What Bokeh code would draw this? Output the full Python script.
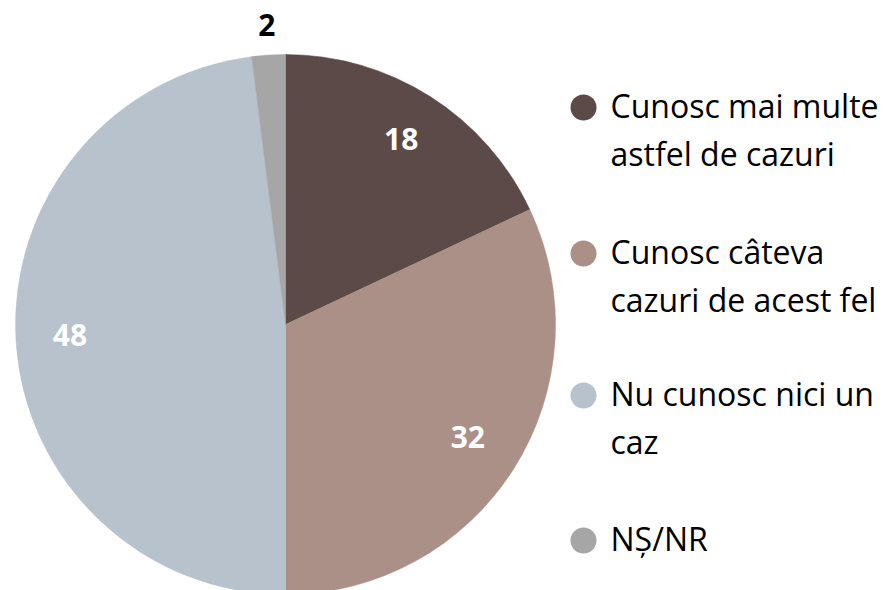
import math
from bokeh.plotting import figure
from bokeh.models import Range1d, ColumnDataSource
from bokeh.core.properties import value
from bokeh.embed import file_html
from bokeh.resources import INLINE

categories = ["Cunosc mai multe\nastfel de cazuri", "Cunosc câteva\ncazuri de acest fel",
              "Nu cunosc nici un\ncaz", "NȘ/NR"]
values = [18, 32, 48, 2]
colors = ["#5B4A47", "#AA9087", "#B8C2CD", "#A6A6A6"]
label_colors = ["white", "white", "white", "black"]
label_radius = [0.80, 0.80, 0.80, 1.10]

R = 270
FONT = "Open Sans"
W, H = 885, 590

p = figure(width=W, height=H, output_backend="svg", toolbar_location=None,
           x_range=Range1d(-285, W - 285), y_range=Range1d(324 - H, 324),
           min_border=0, outline_line_color=None)
p.axis.visible = False
p.grid.visible = False
p.background_fill_color = "white"
p.border_fill_color = "white"

total = sum(values)
starts, ends, lx, ly, texts = [], [], [], [], []
cum = 0
for i, v in enumerate(values):
    a0 = math.pi / 2 - 2 * math.pi * cum / total
    a1 = math.pi / 2 - 2 * math.pi * (cum + v) / total
    starts.append(a0)
    ends.append(a1)
    mid = (a0 + a1) / 2
    lx.append(R * label_radius[i] * math.cos(mid))
    ly.append(R * label_radius[i] * math.sin(mid))
    texts.append(str(v))
    cum += v

src = ColumnDataSource(dict(start=starts, end=ends, color=colors))
p.wedge(x=0, y=0, radius=R, start_angle="start", end_angle="end", direction="clock",
        fill_color="color", line_color="color", line_width=0.5, source=src)

lsrc = ColumnDataSource(dict(x=lx, y=ly, t=texts, c=label_colors))
p.text(x="x", y="y", text="t", text_color="c", source=lsrc,
       text_font=value(FONT), text_font_style="bold", text_font_size="30px",
       text_align="center", text_baseline="alphabetic", y_offset=-3)

# legend
leg_x = 298
leg_y = [217, 71, -71, -216]
line_gap = 48
p.scatter(x=[leg_x] * 4, y=leg_y, size=26, marker="circle", fill_color=colors, line_color=None)
tx, ty, tt = [], [], []
for cat, yy in zip(categories, leg_y):
    for j, line in enumerate(cat.split("\n")):
        tx.append(leg_x + 27)
        ty.append(yy - j * line_gap)
        tt.append(line)
p.text(x=tx, y=ty, text=tt, text_font=value(FONT), text_font_size="32px",
       text_color="black", text_align="left", text_baseline="alphabetic", y_offset=-2)

html = file_html(p, INLINE)
open("out.html", "w").write(html)
